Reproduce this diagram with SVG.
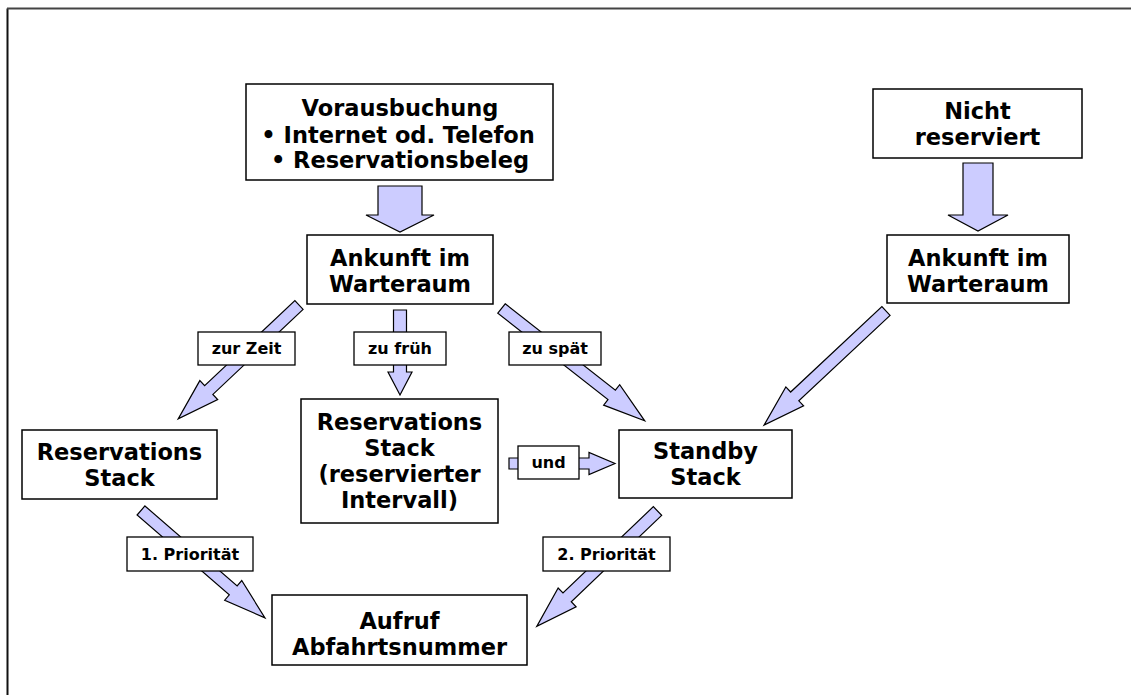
<svg xmlns="http://www.w3.org/2000/svg" width="1131" height="695" viewBox="0 0 1131 695">
<style>
.box{fill:#fff;stroke:#000;stroke-width:1.5}
.lbl{fill:#fff;stroke:#000;stroke-width:1.3}
.arr{fill:#ccccff;stroke:#000;stroke-width:1.2;stroke-linejoin:miter}
.t{font-family:"DejaVu Sans","Verdana",sans-serif;font-weight:bold;font-size:22.5px;text-anchor:middle;fill:#000}
.s{font-family:"DejaVu Sans","Verdana",sans-serif;font-weight:bold;font-size:16px;text-anchor:middle;fill:#000}
</style>
<rect width="1131" height="695" fill="#fff"/>
<path d="M7.5,695 V8.5" stroke="#111" stroke-width="2" fill="none"/>
<path d="M7,8.5 H1131" stroke="#444" stroke-width="2" fill="none"/>

<g id="connectors">
  <polygon class="arr" points="378,186 422,186 422,215 434,215 400,232 366,215 378,215"/>
  <polygon class="arr" points="963,163 993,163 993,215 1008,215 978,231 948,215 963,215"/>
  <polygon class="arr" transform="translate(299,305) rotate(136.7)" points="0,-6 124,-6 124,-13 166,0 124,13 124,6 0,6"/>
  <polygon class="arr" points="393.5,310 406.5,310 406.5,372 412,372 400,395 388,372 393.5,372"/>
  <polygon class="arr" transform="translate(501.5,308.5) rotate(38.1)" points="0,-6 140,-6 140,-13 182,0 140,13 140,6 0,6"/>
  <polygon class="arr" transform="translate(886,311) rotate(136.9)" points="0,-6 125,-6 125,-13 167,0 125,13 125,6 0,6"/>
  <polygon class="arr" points="509,458 589,458 589,452.5 615,463.5 589,474.5 589,469 509,469"/>
  <polygon class="arr" transform="translate(141,510.5) rotate(40.9)" points="0,-6 122,-6 122,-13 164,0 122,13 122,6 0,6"/>
  <polygon class="arr" transform="translate(657.5,511) rotate(136.3)" points="0,-6 125,-6 125,-13 167,0 125,13 125,6 0,6"/>
  <g id="labels">
    <rect class="lbl" x="198" y="332" width="97" height="33"/>
    <text class="s" x="246.5" y="354">zur Zeit</text>
    <rect class="lbl" x="354" y="332" width="92" height="33"/>
    <text class="s" x="400" y="354">zu früh</text>
    <rect class="lbl" x="509" y="332" width="92" height="33"/>
    <text class="s" x="555" y="354">zu spät</text>
    <rect class="lbl" x="518" y="446" width="61" height="33"/>
    <text class="s" x="548.5" y="468">und</text>
    <rect class="lbl" x="127" y="537" width="126" height="34"/>
    <text class="s" x="190" y="560">1. Priorität</text>
    <rect class="lbl" x="543" y="537" width="127" height="34"/>
    <text class="s" x="606.5" y="560">2. Priorität</text>
  </g>
</g>

<g id="vorausbuchung">
  <rect class="box" x="246" y="84" width="307" height="96"/>
  <text class="t" x="400" y="116">Vorausbuchung</text>
  <text class="t" x="398" y="143">• Internet od. Telefon</text>
  <text class="t" x="400" y="168">• Reservationsbeleg</text>
</g>
<g id="ankunft1">
  <rect class="box" x="307" y="235" width="186" height="69"/>
  <text class="t" x="400" y="266">Ankunft im</text>
  <text class="t" x="400" y="292">Warteraum</text>
</g>
<g id="nichtreserviert">
  <rect class="box" x="873" y="89" width="209" height="69"/>
  <text class="t" x="977.5" y="119">Nicht</text>
  <text class="t" x="977.5" y="145">reserviert</text>
</g>
<g id="ankunft2">
  <rect class="box" x="887" y="235" width="182" height="68"/>
  <text class="t" x="978" y="266">Ankunft im</text>
  <text class="t" x="978" y="292">Warteraum</text>
</g>
<g id="resstack">
  <rect class="box" x="22" y="430" width="195" height="69"/>
  <text class="t" x="119.5" y="460">Reservations</text>
  <text class="t" x="119.5" y="486">Stack</text>
</g>
<g id="resstack2">
  <rect class="box" x="301" y="399" width="197" height="124"/>
  <text class="t" x="399.5" y="430">Reservations</text>
  <text class="t" x="399.5" y="456">Stack</text>
  <text class="t" x="399.5" y="482">(reservierter</text>
  <text class="t" x="399.5" y="508">Intervall)</text>
</g>
<g id="standby">
  <rect class="box" x="619" y="430" width="173" height="68"/>
  <text class="t" x="705.5" y="459">Standby</text>
  <text class="t" x="705.5" y="485">Stack</text>
</g>
<g id="aufruf">
  <rect class="box" x="272" y="595" width="255" height="70"/>
  <text class="t" x="399.5" y="629">Aufruf</text>
  <text class="t" x="399.5" y="655">Abfahrtsnummer</text>
</g>
</svg>
